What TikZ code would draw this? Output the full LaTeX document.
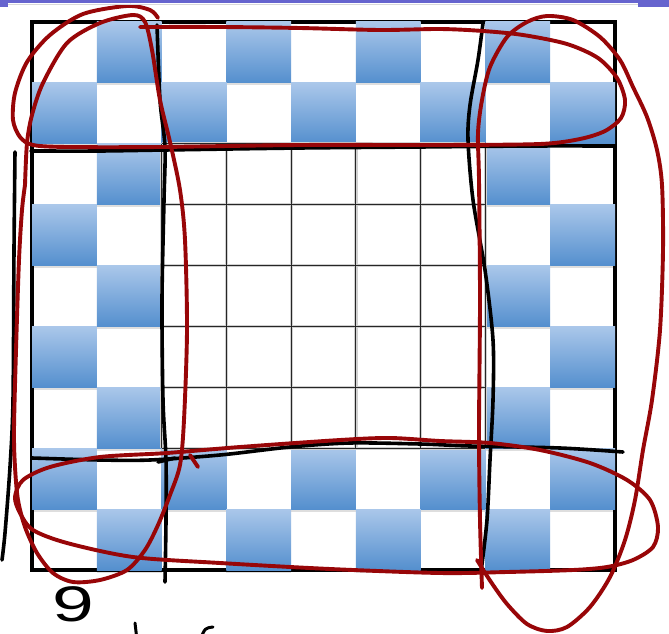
\documentclass[tikz,border=0pt]{standalone}
\usepackage{fontspec}
\setmainfont{Liberation Sans}
\definecolor{redpen}{RGB}{152,6,8}
\definecolor{bluetop}{RGB}{170,199,234}
\definecolor{bluebot}{RGB}{84,143,206}
\definecolor{purplebar}{RGB}{102,100,206}
\tikzset{
  redloop/.style={draw=redpen,line width=3.9pt,line cap=round,line join=round},
  blackpen/.style={draw=black,line width=3.6pt,line cap=round,line join=round},
  gridline/.style={draw=black!85,line width=1pt},
  gridshadow/.style={draw=black!18,line width=3.2pt},
  bluecell/.style={top color=bluetop,bottom color=bluebot},
}
\begin{document}
\begin{tikzpicture}[x=1pt,y=-1pt]
\useasboundingbox (0,0) rectangle (669,634);
\clip (0,0) rectangle (669,634);
\fill[white] (0,0) rectangle (669,634);
% outer frame
\draw[line width=4pt] (32,22) rectangle (615,570);
% cell shadows and blue cells
\foreach \r in {0,...,8}{
  \foreach \c in {0,...,8}{
    \pgfmathtruncatemacro{\brd}{(\r<2 || \r>6 || \c<2 || \c>6) ? 1 : 0}
    \pgfmathtruncatemacro{\odd}{mod(\r+\c,2)}
    \ifnum\brd=1
      \ifnum\odd=1
        \fill[black,opacity=0.13] (32+\c*64.78, 22+\r*60.89+60.89) rectangle ++(64.78,2.5);
        \shade[bluecell] (32+\c*64.78, 22+\r*60.89) rectangle ++(64.78,60.89);
      \fi
    \fi
  }
}
% interior grid
\foreach \i in {2,...,7}{
  \draw[gridshadow] (32+\i*64.78, 22+2*60.89) -- (32+\i*64.78, 22+7*60.89);
  \draw[gridshadow] (32+2*64.78, 22+\i*60.89) -- (32+7*64.78, 22+\i*60.89);
}
\foreach \i in {2,...,7}{
  \draw[gridline] (32+\i*64.78, 22+2*60.89) -- (32+\i*64.78, 22+7*60.89);
  \draw[gridline] (32+2*64.78, 22+\i*60.89) -- (32+7*64.78, 22+\i*60.89);
}
% hand-drawn black lines
\draw[blackpen] plot[smooth] coordinates {(31,151) (100,151) (165,150) (300,148) (420,147) (530,146) (613,146)};
\draw[blackpen] plot[smooth] coordinates {(157,25) (160,100) (165,147) (164,200) (162,300) (163,400) (166,460) (166,520) (165,582)};
\draw[blackpen] plot[smooth] coordinates {(483,23) (478,60) (470,105) (468,140) (473,200) (485,270) (493,340) (493,400) (490,460) (487,520) (481,572)};
\draw[blackpen] plot[smooth] coordinates {(32,458) (100,460) (150,460) (220,455) (290,447) (350,443) (420,444) (470,446) (560,448) (623,452)};
\draw[blackpen] (158,462) -- (175,458);
\draw[blackpen] plot[smooth] coordinates {(15,152) (14,250) (13,400) (10,467) (5,533) (2,560)};
% red loops
\draw[redloop] plot[smooth] coordinates {(140,27) (220,27) (300,28) (380,30) (440,29) (483,31) (523,35) (567,44) (598,58) (617,78) (625,100) (621,118) (605,131) (580,139) (540,144) (440,145) (300,145) (160,147) (67,147) (33,145) (20,137) (13,120) (15,93) (27,62) (50,35) (83,14) (127,6) (150,10) (158,18)};
\draw[redloop] plot[smooth] coordinates {(25,185) (27,143) (32,115) (43,83) (67,43) (100,23) (133,15) (145,22) (152,50) (160,100) (170,142) (180,190) (185,240) (187,330) (184,420) (180,465) (170,495) (158,525) (145,550) (127,570) (100,580) (73,582) (53,573) (37,553) (25,527) (18,500) (15,467) (14,430) (16,350) (19,260) (22,210) (25,185)};
\draw[redloop] plot[smooth] coordinates {(482,588) (480,520) (479,433) (480,300) (479,180) (478,133) (482,100) (490,67) (507,37) (527,22) (547,16) (573,20) (600,37) (620,60) (633,87) (647,117) (657,150) (662,185) (663,250) (660,330) (652,400) (643,450) (635,500) (625,540) (610,577) (590,607) (567,627) (547,631) (527,624) (507,604) (491,582) (477,560)};
\draw[redloop] plot[smooth cycle] coordinates {(15,497) (23,480) (50,467) (100,457) (167,453) (240,447) (340,440) (390,438) (440,441) (490,443) (540,450) (590,463) (627,480) (650,500) (658,527) (653,547) (633,560) (607,567) (573,570) (507,572) (440,573) (330,569) (220,563) (133,557) (67,543) (33,530) (20,513)};
\draw[redloop] (190,455) -- (198,467);
% handwriting at the bottom
\node[anchor=base west,inner sep=0pt,xscale=1.5,font=\fontsize{50}{50}\selectfont] (nine) at (52,621) {9};
\draw[draw=black,line width=3pt,line cap=round] (135,623) -- (137,640);
\draw[draw=black,line width=3pt,line cap=round] (213,627) .. controls (205,628) .. (200,640);
% top purple bar
\fill[purplebar] (0,0) rectangle (669,3.5);
\fill[purplebar] (0,0) rectangle (8,7);
\fill[purplebar] (638,0) rectangle (669,7);
\draw[black!15,line width=1pt] (8,5) -- (638,5);
\end{tikzpicture}
\end{document}
